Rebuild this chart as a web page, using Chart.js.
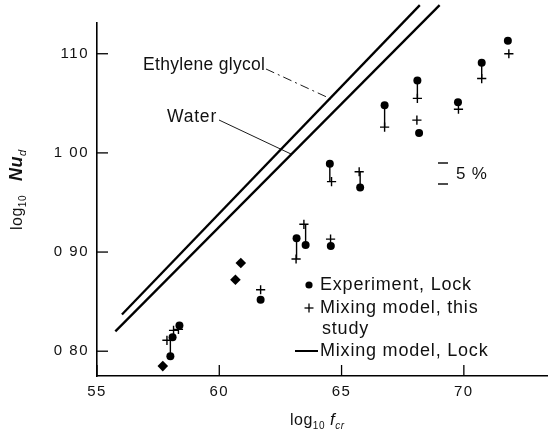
<!DOCTYPE html>
<html>
<head>
<meta charset="utf-8">
<script src="https://cdn.jsdelivr.net/npm/chart.js@4.4.1/dist/chart.umd.min.js"></script>
<style>
	html, body { margin: 0; padding: 0; background: #fff; }
</style>
</head>
<body>
<canvas id="nu-chart" width="551" height="443"></canvas>
<script>
// log10 Nu_d against log10 f_cr

var xTicks = [55, 60, 65, 70];
var xTickLabels = ['55', '60', '65', '70'];
var yTicks = [0.80, 0.90, 1.00, 1.10];
var yTickLabels = ['0 80', '0 90', '1 00', '110'];

// Experiment, Lock (filled circles)
var expX = [58.00, 58.09, 58.37, 61.69, 63.16, 63.53, 64.56, 64.52, 65.76, 66.76, 68.10, 68.17, 69.76, 70.73, 71.80];
var expY = [0.795, 0.814, 0.826, 0.852, 0.914, 0.907, 0.906, 0.989, 0.965, 1.048, 1.073, 1.020, 1.051, 1.091, 1.113];

// Experiment points printed as diamonds
var expDiamondX = [57.69, 60.66, 60.88];
var expDiamondY = [0.785, 0.872, 0.889];

// Mixing model, this study (crosses), same order as expX / expY
var modelX = [57.86, 58.13, 58.33, 61.69, 63.14, 63.46, 64.55, 64.59, 65.72, 66.76, 68.10, 68.08, 69.78, 70.73, 71.84];
var modelY = [0.811, 0.821, 0.822, 0.862, 0.893, 0.928, 0.913, 0.971, 0.981, 1.026, 1.055, 1.033, 1.044, 1.075, 1.100];

// pairs that have a stem drawn from the circle toward the cross
var stemPairs = [0, 4, 5, 7, 8, 9, 10, 13];

// Mixing model, Lock
var glycolX = [56.02, 68.20];
var glycolY = [0.837, 1.149];
var waterX = [55.75, 69.01];
var waterY = [0.820, 1.149];

function toPoints(xArr, yArr) {
	return xArr.map(function (x, i) { return { x: x, y: yArr[i] }; });
}

var stemData = [];
stemPairs.forEach(function (i) {
	stemData.push({ x: expX[i], y: expY[i] });
	stemData.push({ x: expX[i], y: modelY[i] });
	stemData.push({ x: expX[i], y: null });
});

var FONT = "'Liberation Sans', Arial, sans-serif";

function line(ctx, x1, y1, x2, y2) {
	ctx.beginPath();
	ctx.moveTo(x1, y1);
	ctx.lineTo(x2, y2);
	ctx.stroke();
}

// inward ticks, labels on the plot, legend and axis titles
var figureMarks = {
	id: 'figureMarks',
	beforeDraw: function (chart) {
		// the scanned tick numbers are loosely spaced
		chart.ctx.letterSpacing = '1.5px';
	},
	afterDraw: function (chart) {
		var ctx = chart.ctx;
		var a = chart.chartArea;
		var xs = chart.scales.x, ys = chart.scales.y;

		ctx.save();
		ctx.letterSpacing = '0px';
		ctx.strokeStyle = '#000';
		ctx.fillStyle = '#111';
		ctx.lineWidth = 1.3;
		xTicks.forEach(function (v) {
			var px = xs.getPixelForValue(v);
			line(ctx, px, a.bottom, px, a.bottom - 11);
		});
		yTicks.forEach(function (v) {
			var py = ys.getPixelForValue(v);
			line(ctx, a.left, py, a.left + 11, py);
		});

		// curve labels with leaders
		ctx.font = '17.5px ' + FONT;
		ctx.letterSpacing = '0.3px';
		ctx.textBaseline = 'alphabetic';
		ctx.textAlign = 'left';
		ctx.fillText('Ethylene glycol', 143, 70);
		ctx.letterSpacing = '0.8px';
		ctx.fillText('Water', 167, 122);
		ctx.lineWidth = 0.9;
		ctx.setLineDash([9, 4, 2, 4]);
		line(ctx, 266, 69, 331, 99);
		ctx.setLineDash([]);
		line(ctx, 219, 120, 291, 154);

		// 5 % bar
		ctx.lineWidth = 1.4;
		line(ctx, 438, 163, 448, 163);
		line(ctx, 438, 184, 448, 184);
		ctx.textBaseline = 'middle';
		ctx.font = '17px ' + FONT;
		ctx.fillText('5 %', 456, 174);

		// legend
		ctx.font = '18px ' + FONT;
		ctx.letterSpacing = '0.8px';
		ctx.fillStyle = '#000';
		ctx.beginPath();
		ctx.arc(309, 285, 3.6, 0, Math.PI * 2);
		ctx.fill();
		ctx.fillStyle = '#111';
		ctx.fillText('Experiment, Lock', 320, 285);
		ctx.lineWidth = 1.3;
		line(ctx, 304.5, 308, 313.5, 308);
		line(ctx, 309, 303.5, 309, 312.5);
		ctx.fillText('Mixing model, this', 320, 308);
		ctx.fillText('study', 322, 329);
		ctx.lineWidth = 2;
		line(ctx, 295, 351, 318, 351);
		ctx.fillText('Mixing model, Lock', 320, 351);

		// x title: log10 f_cr
		ctx.letterSpacing = '0.5px';
		ctx.textBaseline = 'alphabetic';
		ctx.font = '16px ' + FONT;
		var tx = 290, ty = 425;
		ctx.fillText('log', tx, ty);
		tx += ctx.measureText('log').width;
		ctx.font = '10px ' + FONT;
		ctx.fillText('10', tx, ty + 4);
		tx += ctx.measureText('10').width + 5;
		ctx.font = 'italic 17px ' + FONT;
		ctx.fillText('f', tx, ty);
		tx += ctx.measureText('f').width;
		ctx.font = 'italic 10px ' + FONT;
		ctx.fillText('cr', tx, ty + 4);

		// y title: log10 Nu_d
		ctx.translate(22, 230);
		ctx.rotate(-Math.PI / 2);
		var t = 0;
		ctx.font = '16px ' + FONT;
		ctx.fillText('log', t, 0);
		t += ctx.measureText('log').width;
		ctx.font = '10px ' + FONT;
		ctx.fillText('10', t, 4);
		t += ctx.measureText('10').width + 14;
		ctx.font = 'italic bold 18px ' + FONT;
		ctx.fillText('Nu', t, 0);
		t += ctx.measureText('Nu').width;
		ctx.font = 'italic 11px ' + FONT;
		ctx.fillText('d', t, 4);
		ctx.restore();
	}
};

window.addEventListener('load', function () {
	var ctx = document.getElementById('nu-chart').getContext('2d');
	var nuChart = new Chart(ctx, {
		type: 'scatter',
		data: {
			datasets: [
				{
					type: 'line',
					label: 'Ethylene glycol',
					data: toPoints(glycolX, glycolY),
					borderColor: '#000',
					borderWidth: 2.3,
					pointRadius: 0,
					clip: false,
				},
				{
					type: 'line',
					label: 'Water',
					data: toPoints(waterX, waterY),
					borderColor: '#000',
					borderWidth: 2.3,
					pointRadius: 0,
					clip: false,
				},
				{
					type: 'line',
					label: 'stems',
					data: stemData,
					borderColor: '#000',
					borderWidth: 1.4,
					pointRadius: 0,
					spanGaps: false,
				},
				{
					label: 'Experiment, Lock',
					data: toPoints(expX, expY),
					pointStyle: 'circle',
					pointRadius: 4,
					backgroundColor: '#000',
					borderColor: '#000',
					borderWidth: 0,
				},
				{
					label: 'Experiment, Lock (diamond)',
					data: toPoints(expDiamondX, expDiamondY),
					pointStyle: 'rectRot',
					pointRadius: 5.3,
					backgroundColor: '#000',
					borderColor: '#000',
					borderWidth: 0,
				},
				{
					label: 'Mixing model, this study',
					data: toPoints(modelX, modelY),
					pointStyle: 'cross',
					pointRadius: 4.6,
					borderColor: '#000',
					borderWidth: 1.4,
				}
			]
		},
		options: {
			responsive: false,
			animation: false,
			events: [],
			layout: {
				autoPadding: false,
				padding: { left: 0, right: 4, top: 23, bottom: 0 }
			},
			plugins: {
				legend: { display: false },
				tooltip: { enabled: false }
			},
			scales: {
				x: {
					type: 'linear',
					min: 55,
					max: 73.4,
					afterBuildTicks: function (scale) {
						scale.ticks = xTicks.map(function (v) { return { value: v }; });
					},
					afterFit: function (scale) { scale.height = 67; },
					grid: { display: false, drawTicks: false },
					border: { display: true, color: '#000', width: 1.5 },
					ticks: {
						padding: 7,
						color: '#111',
						font: { family: FONT, size: 15 },
						maxRotation: 0,
						callback: function (value, index) { return xTickLabels[index]; }
					}
				},
				y: {
					type: 'linear',
					min: 0.775,
					max: 1.131,
					afterBuildTicks: function (scale) {
						scale.ticks = yTicks.map(function (v) { return { value: v }; });
					},
					afterFit: function (scale) { scale.width = 97; },
					grid: { display: false, drawTicks: false },
					border: { display: true, color: '#000', width: 1.6 },
					ticks: {
						padding: 8,
						color: '#111',
						font: { family: FONT, size: 15 },
						callback: function (value, index) { return yTickLabels[index]; }
					}
				}
			}
		},
		plugins: [figureMarks]
	});
});
</script>
</body>
</html>
